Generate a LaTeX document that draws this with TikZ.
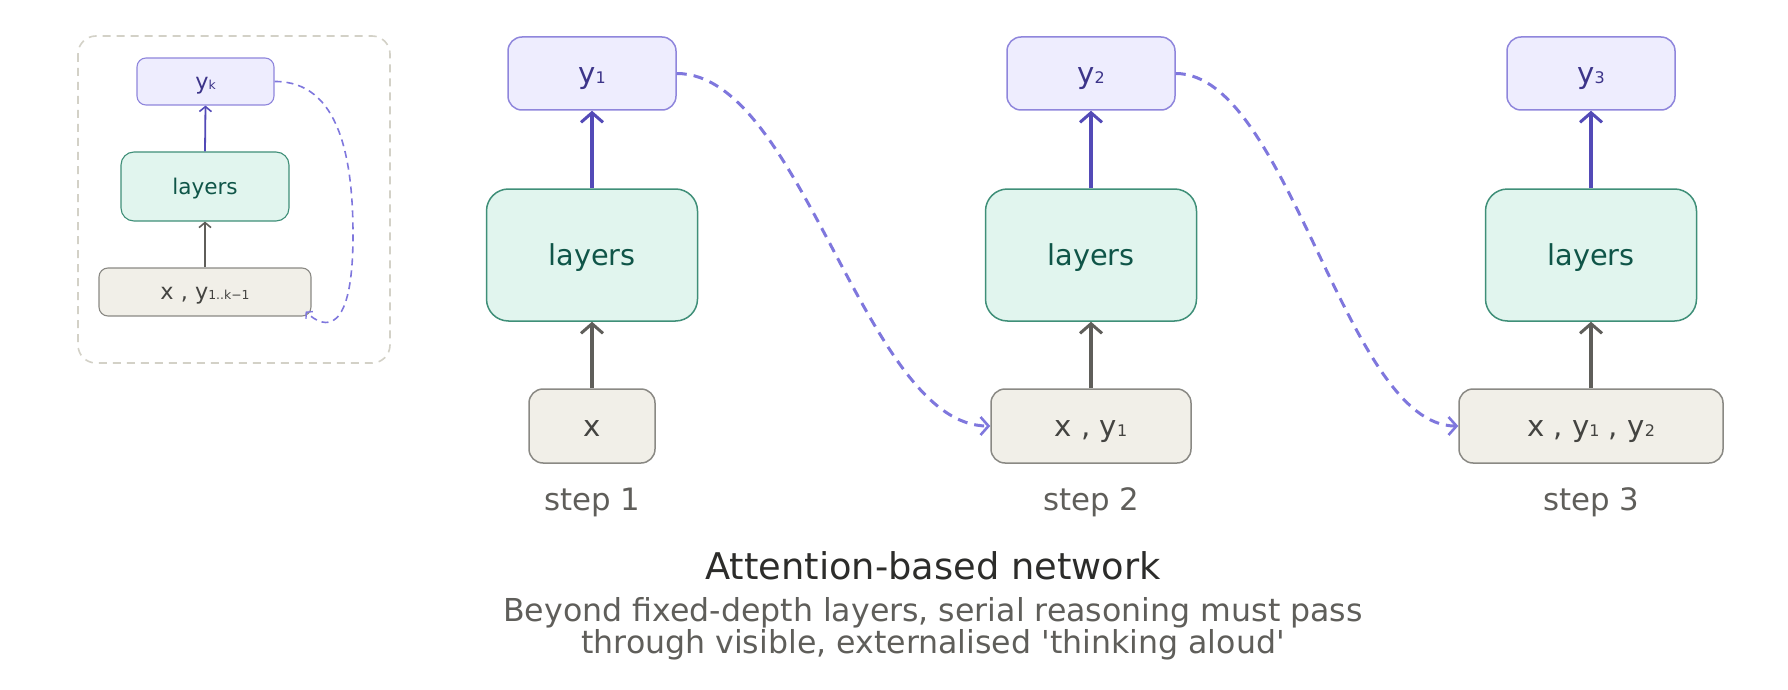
\documentclass[tikz,border=0pt]{standalone}
\usepackage{fontspec}
\setmainfont{DejaVu Sans}[Ligatures=TeXOff]
\usetikzlibrary{arrows.meta,calc}
\definecolor{yfill}{HTML}{EEEDFE}
\definecolor{ydraw}{HTML}{8F86DC}
\definecolor{ytext}{HTML}{3C3489}
\definecolor{lfill}{HTML}{E1F5EE}
\definecolor{ldraw}{HTML}{3F8F78}
\definecolor{ltext}{HTML}{0F5548}
\definecolor{bfill}{HTML}{F1EFE8}
\definecolor{bdraw}{HTML}{8A8984}
\definecolor{btext}{HTML}{444441}
\definecolor{uparrow}{HTML}{534AB7}
\definecolor{grayarrow}{HTML}{5F5E5A}
\definecolor{loopc}{HTML}{7F77DD}
\definecolor{panelc}{HTML}{D3D1C7}
\definecolor{steptext}{HTML}{5F5E5A}
\definecolor{titletext}{HTML}{2C2C2A}
\newcommand\sbs[1]{{\fontsize{8}{8}\selectfont #1}}
\newcommand\ssbs[1]{{\fontsize{6.2}{6}\selectfont #1}}
\tikzset{
  ybox/.style={draw=ydraw, fill=yfill, text=ytext, line width=0.75pt, rounded corners=7pt,
    minimum width=84pt, minimum height=36.5pt, inner sep=0pt, text height=10.2pt, text depth=0pt,
    font=\fontsize{14.6}{16}\selectfont},
  lbox/.style={draw=ldraw, fill=lfill, text=ltext, line width=0.75pt, rounded corners=11pt,
    minimum width=105.5pt, minimum height=66pt, inner sep=0pt, text height=10.1pt, text depth=0pt,
    font=\fontsize{14.4}{16}\selectfont},
  bbox/.style={draw=bdraw, fill=bfill, text=btext, line width=0.75pt, rounded corners=7pt,
    minimum height=37pt, inner sep=0pt, text height=10.2pt, text depth=0pt,
    font=\fontsize{14.6}{16}\selectfont},
  sybox/.style={ybox, minimum width=68.5pt, minimum height=23.5pt, rounded corners=4.5pt, line width=0.55pt,
    text height=7.8pt, font=\fontsize{11.2}{12}\selectfont},
  slbox/.style={lbox, minimum width=84pt, minimum height=34.5pt, rounded corners=6.5pt, line width=0.55pt,
    text height=7.6pt, font=\fontsize{10.8}{12}\selectfont},
  sbbox/.style={bbox, minimum width=106pt, minimum height=24pt, rounded corners=4.5pt, line width=0.55pt,
    text height=7.8pt, font=\fontsize{11.2}{12}\selectfont},
  uparr/.style={draw=uparrow, line width=1.7pt, -{Straight Barb[length=4.8pt,width=11pt,line width=1.5pt]}},
  grayarr/.style={draw=grayarrow, line width=1.7pt, -{Straight Barb[length=4.8pt,width=11pt,line width=1.5pt]}},
  suparr/.style={draw=uparrow, line width=0.9pt, -{Straight Barb[length=2.5pt,width=6pt,line width=0.8pt]}},
  sgrayarr/.style={draw=grayarrow, line width=0.9pt, -{Straight Barb[length=2.5pt,width=6pt,line width=0.8pt]}},
  looparr/.style={draw=loopc, line width=1.5pt, dash pattern=on 5pt off 3.5pt,
    -{Straight Barb[length=4pt,width=9pt,line width=1.3pt]}},
  sloop/.style={draw=loopc, line width=0.8pt, dash pattern=on 3.5pt off 2.5pt,
    -{Straight Barb[length=2.2pt,width=5pt,line width=0.7pt]}},
  steplabel/.style={text=steptext, font=\fontsize{15.4}{16}\selectfont, inner sep=0pt},
}
\begin{document}
\begin{tikzpicture}[x=0.5pt,y=-0.5pt]
\useasboundingbox (0,0) rectangle (1788,690);
% left panel
\draw[panelc, line width=0.8pt, dash pattern=on 4pt off 3pt, rounded corners=9pt] (78,36) rectangle (390,363);
\node[sybox] (yk) at (205.5,81.5) {y\ssbs{k}};
\node[slbox] (sl) at (205,186.5) {layers};
\node[sbbox] (sb) at (205,292) {x , y\ssbs{1..k−1}};
\draw[suparr] (sl.north) -- (yk.south);
\draw[sgrayarr] (sb.north) -- (sl.south);
\draw[sloop] (yk.east) .. controls (340,81) and (353,160) .. (353,235)
  .. controls (353,335) and (325,330) .. ($(sb.south east)+(-6,-5)$);
% step 1
\node[ybox] (y1) at (592,73.5) {y\sbs{1}};
\node[lbox] (l1) at (592,255) {layers};
\node[bbox, minimum width=63pt] (b1) at (592,426) {x};
\node[steplabel] (s1) at (592,502) {step 1};
% step 2
\node[ybox] (y2) at (1091,73.5) {y\sbs{2}};
\node[lbox] (l2) at (1091,255) {layers};
\node[bbox, minimum width=100pt] (b2) at (1091,426) {x , y\sbs{1}};
\node[steplabel] (s2) at (1091,502) {step 2};
% step 3
\node[ybox] (y3) at (1591,73.5) {y\sbs{3}};
\node[lbox] (l3) at (1591,255) {layers};
\node[bbox, minimum width=132pt] (b3) at (1591,426) {x , y\sbs{1} , y\sbs{2}};
\node[steplabel] (s3) at (1591,502) {step 3};
% arrows
\foreach \i in {1,2,3}{
  \draw[uparr] (l\i.north) -- (y\i.south);
  \draw[grayarr] (b\i.north) -- (l\i.south);
}
\coordinate (m1a) at ($(y1.east)!0.4!(b2.west)$);
\coordinate (m1b) at ($(y1.east)!0.6!(b2.west)$);
\coordinate (m2a) at ($(y2.east)!0.4!(b3.west)$);
\coordinate (m2b) at ($(y2.east)!0.6!(b3.west)$);
\draw[looparr] (y1.east) .. controls (m1a |- y1.east) and (m1b |- b2.west) .. (b2.west);
\draw[looparr] (y2.east) .. controls (m2a |- y2.east) and (m2b |- b3.west) .. (b3.west);
% captions
\node[text=titletext, font=\fontsize{18.4}{20}\selectfont, inner sep=0pt] (title) at (933,566) {Attention-based network};
\node[text=steptext, font=\fontsize{15.8}{16}\selectfont, align=center, inner sep=0pt] (sub) at (933,628.5)
  {Beyond fixed-depth layers, serial reasoning must pass\\through visible, externalised 'thinking aloud'};
\end{tikzpicture}
\end{document}
